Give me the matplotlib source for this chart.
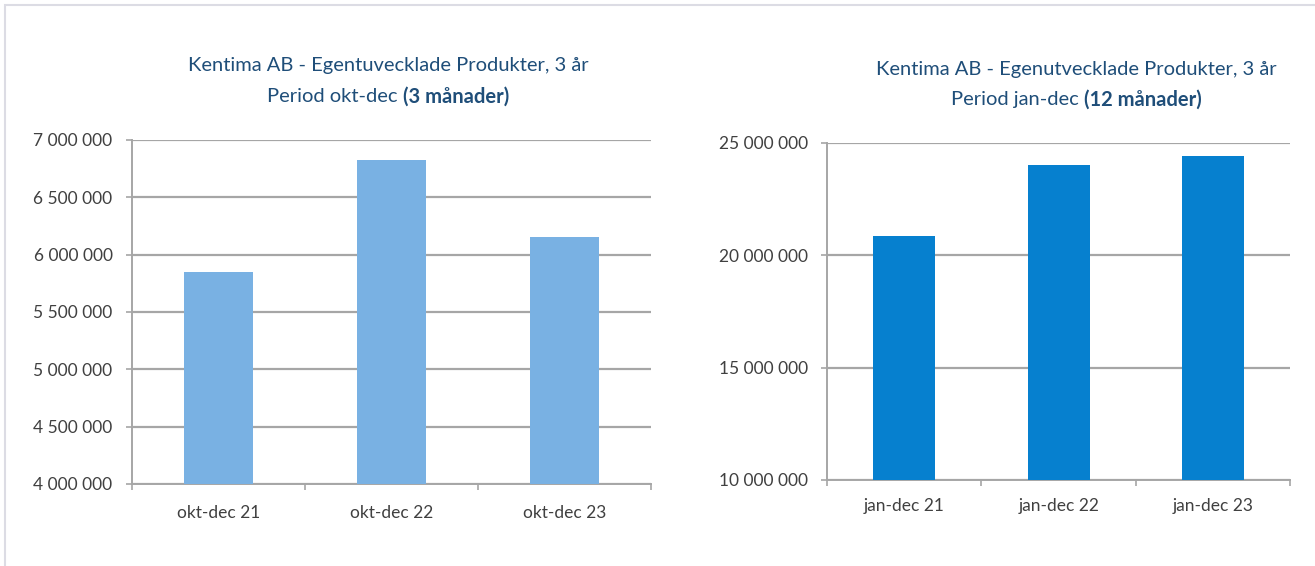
import matplotlib
matplotlib.use("Agg")
import matplotlib.pyplot as plt
from matplotlib.patches import Rectangle
from matplotlib.ticker import FuncFormatter, FixedLocator

plt.rcParams['font.family'] = ['Lato', 'DejaVu Sans']

# data
q_labels = ['okt-dec 21', 'okt-dec 22', 'okt-dec 23']
q_values = [5850000, 6826000, 6157000]
y_labels = ['jan-dec 21', 'jan-dec 22', 'jan-dec 23']
y_values = [20880000, 24000000, 24410000]

q_ticks = [4000000, 4500000, 5000000, 5500000, 6000000, 6500000, 7000000]
y_ticks = [10000000, 15000000, 20000000, 25000000]

q_title = 'Kentima AB - Egentuvecklade Produkter, 3 år'
y_title = 'Kentima AB - Egenutvecklade Produkter, 3 år'
q_period = ('Period okt-dec ', '(3 månader)')
y_period = ('Period jan-dec ', '(12 månader)')

TITLE_C = '#1f4e79'
TICK_C = '#404040'
GRID_C = '#a6a6a6'
W, H = 1315, 566


def space_fmt(v, pos):
    return f"{v:,.0f}".replace(",", " ")


def setup_axes(ax, labels, values, ticks, color, xpad, fs):
    x = range(len(labels))
    ax.bar(x, values, width=0.4, color=color, zorder=3)
    ax.set_xlim(-0.5, len(labels) - 0.5)
    ax.set_ylim(ticks[0], ticks[-1])
    ax.yaxis.set_major_locator(FixedLocator(ticks))
    ax.yaxis.set_major_formatter(FuncFormatter(space_fmt))
    ax.set_xticks(list(x))
    ax.set_xticklabels(labels)
    ax.set_xticks([i - 0.5 for i in range(len(labels) + 1)], minor=True)
    ax.tick_params(axis='x', which='major', length=0, pad=xpad, labelsize=fs, labelcolor=TICK_C)
    ax.tick_params(axis='x', which='minor', length=4.5, width=1.2, color=GRID_C, direction='out')
    ax.tick_params(axis='y', length=4, width=1.2, color=GRID_C, labelsize=fs, labelcolor=TICK_C, pad=10)
    ax.grid(axis='y', color=GRID_C, linewidth=1.6, zorder=0)
    for s in ['top', 'right']:
        ax.spines[s].set_visible(False)
    for s in ['left', 'bottom']:
        ax.spines[s].set_color(GRID_C)
        ax.spines[s].set_linewidth(1.4)


def two_part_title(cx, y1, y2, line1, line2):
    fs = 14.5
    fig.text(cx, y1, line1, ha='center', va='center', fontsize=fs, color=TITLE_C)
    normal = fig.text(0, y2, line2[0], ha='left', va='center', fontsize=fs, color=TITLE_C)
    bold = fig.text(0, y2, line2[1], ha='left', va='center', fontsize=fs,
                    color=TITLE_C, fontweight='bold')
    return normal, bold, cx


fig = plt.figure(figsize=(13.15, 5.66), dpi=100)

ax1 = fig.add_axes([0.1004, 0.1449, 0.3947, 0.6078])
setup_axes(ax1, q_labels, q_values, q_ticks, '#79b1e3', 15, 12.5)

ax2 = fig.add_axes([0.6290, 0.1520, 0.3521, 0.5954])
setup_axes(ax2, y_labels, y_values, y_ticks, '#0680cf', 13, 12.5)

parts = [
    two_part_title(388 / W, 1 - 65 / H, 1 - 97 / H, q_title, q_period),
    two_part_title(1076 / W, 1 - 70 / H, 1 - 100 / H, y_title, y_period),
]

# centre the mixed normal/bold second title lines
fig.canvas.draw()
r = fig.canvas.get_renderer()
for normal, bold, cx in parts:
    wn = normal.get_window_extent(r).width / W
    wb = bold.get_window_extent(r).width / W
    x0 = cx - (wn + wb) / 2
    normal.set_x(x0)
    bold.set_x(x0 + wn)

# faint frame round the picture
fig.patches.append(Rectangle((5 / W, -0.1), 1.2, 1 - 5 / H + 0.1, transform=fig.transFigure,
                             fill=False, edgecolor='#dcdce4', linewidth=1.5))

fig.savefig('out.png', dpi=100)
